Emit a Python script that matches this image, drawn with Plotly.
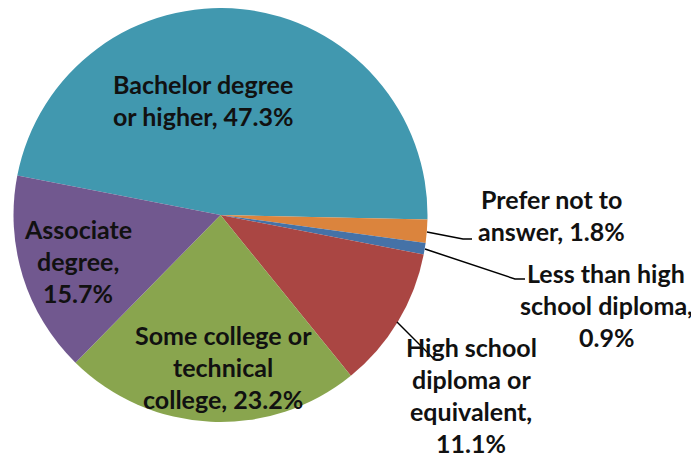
import plotly.graph_objects as go

# ---- data ----
categories = ["Bachelor degree or higher", "Prefer not to answer", "Less than high school diploma",
              "High school diploma or equivalent", "Some college or technical college", "Associate degree"]
values = [47.3, 1.8, 0.9, 11.1, 23.2, 15.7]
label_templates = ["Bachelor degree<br>or higher, {}%", "Prefer not to<br>answer, {}%",
                   "Less than high<br>school diploma,<br>{}%", "High school<br>diploma or<br>equivalent,<br>{}%",
                   "Some college or<br>technical<br>college, {}%", "Associate<br>degree,<br>{}%"]
colors = ["#4198AF", "#DB843D", "#4572A7", "#AA4643", "#89A54E", "#71588F"]

# page body has an 8px default margin: the figure is drawn offset by it
OFF = 8
W, H = 699 - OFF, 458 - OFF

def fx(x):
    return (x - OFF) / W

def fy(y):
    return 1 - (y - OFF) / H

cx, cy, r = 220.5, 215, 207

fig = go.Figure(go.Pie(
    labels=categories, values=values, sort=False, direction="clockwise", rotation=281,
    marker=dict(colors=colors, line=dict(width=0)), textinfo="none", hoverinfo="label+percent",
    domain=dict(x=[fx(cx - r), fx(cx + r)], y=[fy(cy + r), fy(cy - r)]),
    showlegend=False))

# label placement (reference pixel centres of each text block), line height
label_pos = [(203, 100), (551, 215), (606, 305), (471, 395), (223, 367), (78, 261)]
line_h = 32
annotations = []
for tmpl, v, (px, py) in zip(label_templates, values, label_pos):
    lines = tmpl.format(v).split("<br>")
    n = len(lines)
    for i, ln in enumerate(lines):
        yy = py + (i - (n - 1) / 2) * line_h
        annotations.append(dict(text=ln, x=fx(px), y=fy(yy), xref="paper", yref="paper",
                                showarrow=False, xanchor="center", yanchor="middle",
                                font=dict(family="Lato", size=25, color="#111111", weight="bold")))

def path(pts):
    return "M " + " L ".join(f"{fx(x)},{fy(y)}" for x, y in pts)

leaders = [[(427, 232), (463, 239), (472, 239)],
           [(425, 249), (515, 279), (525, 279)],
           [(397, 322), (433, 358)]]
shapes = [dict(type="path", xref="paper", yref="paper", path=path(p),
               line=dict(color="black", width=1.5)) for p in leaders]

fig.update_layout(width=W, height=H, margin=dict(l=0, r=0, t=0, b=0),
                  paper_bgcolor="white", plot_bgcolor="white",
                  annotations=annotations, shapes=shapes)
fig.write_html("out.html")
